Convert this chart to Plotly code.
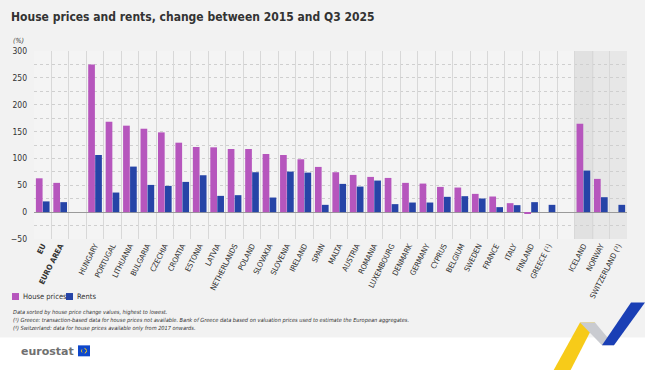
import plotly.graph_objects as go

# ---------------- data ----------------
categories = ["EU", "EURO AREA", " ",
              "HUNGARY", "PORTUGAL", "LITHUANIA", "BULGARIA", "CZECHIA", "CROATIA",
              "ESTONIA", "LATVIA", "NETHERLANDS", "POLAND", "SLOVAKIA", "SLOVENIA",
              "IRELAND", "SPAIN", "MALTA", "AUSTRIA", "ROMANIA", "LUXEMBOURG",
              "DENMARK", "GERMANY", "CYPRUS", "BELGIUM", "SWEDEN", "FRANCE", "ITALY",
              "FINLAND", "GREECE (¹)", "  ",
              "ICELAND", "NORWAY", "SWITZERLAND (²)"]

house_prices = [63, 54.5, None,
                274.7, 168.3, 161, 155.3, 148.5, 129.3,
                121.3, 120.7, 117.6, 117.6, 108.3, 106.4,
                98.4, 84.2, 74.3, 69.3, 65.6, 63.7,
                54.5, 53.2, 47, 45.8, 34, 29.1, 16.7,
                -1.9, None, None,
                164.6, 61.9, None]

rents = [20, 18.6, None,
         106.4, 36.5, 84.8, 50.7, 48.9, 56.3,
         68.7, 30.3, 31.6, 74.3, 27.2, 75.5,
         73.6, 13.6, 52.6, 47.6, 58.8, 14.9,
         17.9, 17.9, 28.5, 29.7, 25.4, 9.3, 13,
         18.6, 13.6, None,
         77.4, 27.8, 13.6]

series_names = ["House prices", "Rents"]
bold_labels = ["EU", "EURO AREA"]
y_ticks = [-50, 0, 50, 100, 150, 200, 250, 300]

title = "House prices and rents, change between 2015 and Q3 2025"
unit = "(%)"
notes = ["Data sorted by house price change values, highest to lowest.",
         "(¹) Greece: transaction-based data for house prices not available. Bank of Greece data based on valuation prices used to estimate the European aggregates.",
         "(²) Switzerland: data for house prices available only from 2017 onwards."]

# ---------------- styling ----------------
PURPLE = "#b656bd"
BLUE = "#2644a7"
COLORS = [PURPLE, BLUE]
FONT = "DejaVu Sans Condensed, Liberation Sans Narrow, sans-serif"
W, H = 645, 370
L, R, T, B = 34, 18, 50.7, 130.7
PW, PH = W - L - R, H - T - B


def px(x):
    return (x - L) / PW


def py(y):
    return (H - B - y) / PH


ticktext = [f"<b>{c}</b>" if c in bold_labels else c for c in categories]

fig = go.Figure()
for name, vals, col in zip(series_names, [house_prices, rents], COLORS):
    fig.add_trace(go.Bar(name=name, x=categories, y=vals, showlegend=False,
                         marker=dict(color=col, line=dict(width=0))))

shapes = []
# white footer
shapes.append(dict(type="rect", xref="paper", yref="paper",
                   x0=px(-2), x1=px(W + 2), y0=py(338), y1=py(H + 2),
                   fillcolor="white", line=dict(width=0), layer="below"))
# shaded non-EU area
n = len(categories)
ice = categories.index("ICELAND")
shapes.append(dict(type="rect", xref="x", yref="y",
                   x0=ice - 0.5, x1=n - 0.5, y0=-50, y1=300,
                   fillcolor="#e7e7e7", line=dict(width=0), layer="below"))
shapes.append(dict(type="rect", xref="x", yref="y",
                   x0=ice - 0.5, x1=ice + 0.6, y0=-50, y1=300,
                   fillcolor="#e1e1e1", line=dict(width=0), layer="below"))


def path(points):
    return "M " + " L ".join(f"{px(a):.5f},{py(b):.5f}" for a, b in points) + " Z"


# decorative swoosh
shapes.append(dict(type="path", xref="paper", yref="paper",
                   path=path([(553, 372), (580, 323), (595, 323), (570, 372)]),
                   fillcolor="#f6c500", line=dict(width=0), opacity=0.9))
shapes.append(dict(type="path", xref="paper", yref="paper",
                   path=path([(580, 323), (595, 323), (614, 346), (602, 346)]),
                   fillcolor="#c9cbd0", line=dict(width=0)))
shapes.append(dict(type="path", xref="paper", yref="paper",
                   path=path([(602, 346), (614, 346), (645, 303), (631, 303)]),
                   fillcolor="#1a3fb5", line=dict(width=0)))
# eurostat flag
shapes.append(dict(type="rect", xref="paper", yref="paper",
                   x0=px(78), x1=px(90), y0=py(346), y1=py(357),
                   fillcolor="#0e47cb", line=dict(width=0)))
shapes.append(dict(type="circle", xref="paper", yref="paper",
                   x0=px(81.5), x1=px(86.5), y0=py(349), y1=py(354),
                   fillcolor="rgba(0,0,0,0)", line=dict(width=1, color="#ffd617", dash="dot")))

annotations = [
    dict(text=f"<b>{title}</b>", xref="paper", yref="paper", x=px(9), y=py(17),
         xanchor="left", yanchor="middle", showarrow=False,
         font=dict(family=FONT, size=12, color="#333333")),
    dict(text=f"<i>{unit}</i>", xref="paper", yref="paper", x=px(11), y=py(40.5),
         xanchor="left", yanchor="middle", showarrow=False,
         font=dict(family=FONT, size=7, color="#444444")),
    dict(text="<b>eurostat</b>", xref="paper", yref="paper", x=px(19), y=py(352),
         xanchor="left", yanchor="middle", showarrow=False,
         font=dict(family="DejaVu Sans, sans-serif", size=11, color="#707070")),
]
for i, line in enumerate(notes):
    annotations.append(dict(text=f"<i>{line}</i>", xref="paper", yref="paper",
                            x=px(11), y=py(313 + 8 * i), xanchor="left", yanchor="middle",
                            showarrow=False,
                            font=dict(family=FONT, size=5.6, color="#333333")))

# legend (squares + labels)
legend_x = [12, 66]
for name, col, lx in zip(series_names, COLORS, legend_x):
    shapes.append(dict(type="rect", xref="paper", yref="paper",
                       x0=px(lx), x1=px(lx + 7), y0=py(293.5), y1=py(300.5),
                       fillcolor=col, line=dict(width=0)))
    annotations.append(dict(text=name, xref="paper", yref="paper", x=px(lx + 9), y=py(297),
                            xanchor="left", yanchor="middle", showarrow=False,
                            font=dict(family=FONT, size=7.5, color="#333333")))

fig.update_layout(
    width=W, height=H,
    margin=dict(l=L, r=R, t=T, b=B, pad=0, autoexpand=False),
    paper_bgcolor="#f2f2f2", plot_bgcolor="#f4f4f4",
    barmode="group", bargap=0.2, bargroupgap=0.04,
    font=dict(family=FONT, size=8, color="#333333"),
    showlegend=False,
    shapes=shapes,
    annotations=annotations,
    xaxis=dict(type="category", categoryorder="array", categoryarray=categories,
               tickmode="array", tickvals=categories, ticktext=ticktext,
               tickson="boundaries", ticks="", showgrid=True, gridcolor="#d8d8d8",
               gridwidth=1, tickangle=-63, showline=False, zeroline=False,
               tickfont=dict(family=FONT, size=7.6, color="#333333"),
               range=[-0.5, n - 0.5], fixedrange=True, automargin=False),
    yaxis=dict(range=[-50, 300], tickvals=y_ticks, showgrid=True, gridcolor="#cfcfcf",
               griddash="dot", gridwidth=1, zeroline=True, zerolinecolor="#9a9a9a",
               zerolinewidth=1, showline=False, ticks="", ticklabelstandoff=6,
               tickfont=dict(family=FONT, size=8.5, color="#333333"),
               minor=dict(dtick=25, tick0=0, showgrid=True, gridcolor="#cfcfcf",
                          griddash="dot", gridwidth=1, ticks=""),
               fixedrange=True, automargin=False),
)

fig.write_html("out.html", config={"displayModeBar": False},
               post_script="document.body.style.margin='0';document.body.style.padding='0';")
